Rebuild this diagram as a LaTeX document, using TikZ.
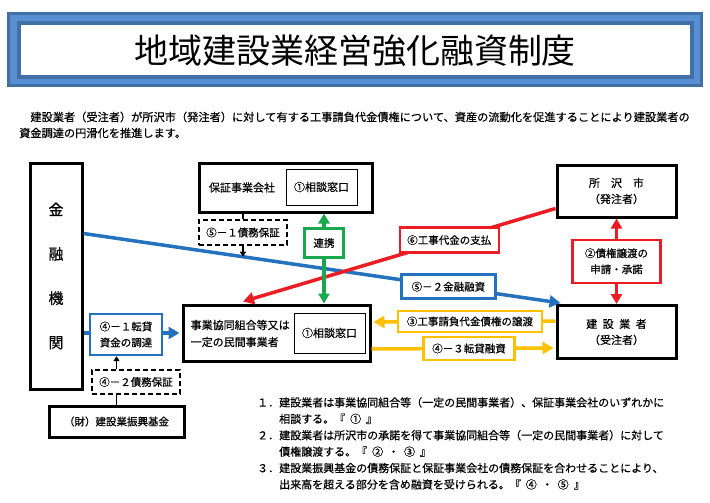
\documentclass[tikz,border=0pt]{standalone}
\usepackage{fontspec}
\setmainfont{Noto Sans CJK JP}
\newfontfamily\jpb[FakeBold=0.5]{Noto Sans CJK JP}
\usetikzlibrary{arrows.meta}
\definecolor{tdark}{RGB}{66,112,166}
\definecolor{tlight}{RGB}{88,143,210}
\definecolor{cblue}{RGB}{36,114,190}
\definecolor{cred}{RGB}{236,28,36}
\definecolor{cgreen}{RGB}{24,168,78}
\definecolor{cyellow}{RGB}{255,192,0}
\newcommand{\hs}{\hspace{0.45em}}
\tikzset{
  txt/.style={font=\jpb\fontsize{11}{16}\selectfont, inner sep=0pt},
  bigbox/.style={draw=black, line width=3pt, fill=white, inner sep=2pt, align=center,
    font=\jpb\fontsize{11}{16}\selectfont},
  inbox/.style={draw=black, line width=0.8pt, fill=white, inner sep=1pt,
    font=\jpb\fontsize{11}{16}\selectfont},
  lblbox/.style={line width=2.4pt, fill=white, inner sep=1pt, align=center,
    font=\jpb\fontsize{10.5}{16}\selectfont},
  dashbox/.style={draw=black, line width=1.4pt, dash pattern=on 5pt off 3pt, fill=white,
    inner sep=1pt, font=\jpb\fontsize{10.5}{16}\selectfont},
  bigtip/.style={-{Triangle[length=11pt,width=12pt]}},
  bothtip/.style={{Triangle[length=10pt,width=11pt]}-{Triangle[length=10pt,width=11pt]}},
  smalltip/.style={-{Triangle[length=5pt,width=6pt]}},
  conn/.style={line width=3.5pt},
}
\begin{document}
\begin{tikzpicture}[x=1pt,y=-1pt]
\useasboundingbox (0,0) rectangle (710,503);
\fill[white] (0,0) rectangle (710,503);
% title frame
\fill[tdark] (7,12) rectangle (703,87);
\fill[tlight] (10.3,15.3) rectangle (699.7,83.7);
\fill[tdark] (16.5,21.5) rectangle (694,79);
\fill[white] (20.5,25.5) rectangle (690,75);
\node[font=\fontsize{34}{40}\selectfont, inner sep=0pt] (title) at (355,51) {地域建設業経営強化融資制度};
% intro
\node[txt, font=\jpb\fontsize{11.2}{16}\selectfont, anchor=west] (intro1) at (19,117) {　建設業者（受注者）が所沢市（発注者）に対して有する工事請負代金債権について、資産の流動化を促進することにより建設業者の};
\node[txt, font=\jpb\fontsize{11.2}{16}\selectfont, anchor=west] (intro2) at (19,133) {資金調達の円滑化を推進します。};

% main boxes
\node[bigbox, minimum width=52pt, minimum height=226pt, font=\jpb\fontsize{15}{44.3}\selectfont] (kinyu) at (56,276) {金\\融\\機\\関};
\node[bigbox, minimum width=173pt, minimum height=49pt] (hosho) at (285.5,187.5) {};
\node[txt] (hoshotxt) at (242,187.5) {保証事業会社};
\node[inbox, minimum width=71pt, minimum height=36pt] (hmado) at (321.5,187) {①相談窓口};
\node[bigbox, minimum width=187pt, minimum height=56pt] (kumiai) at (276.5,333) {};
\node[txt, align=left, anchor=west, font=\jpb\fontsize{11}{17}\selectfont] (kumiaitxt) at (190.5,333.5) {事業協同組合等又は\\一定の民間事業者};
\node[inbox, minimum width=71pt, minimum height=40pt] (kmado) at (329.5,333) {①相談窓口};
\node[bigbox, minimum width=119pt, minimum height=52pt] (tokoro) at (616.5,191) {所　沢　市\\（発注者）};
\node[bigbox, minimum width=119pt, minimum height=53pt] (kensetsu) at (616.5,332) {建\hspace{0.5em}設\hspace{0.5em}業\hspace{0.5em}者\\（受注者）};
\node[bigbox, minimum width=135pt, minimum height=31pt, font=\jpb\fontsize{10.5}{16}\selectfont] (zaidan) at (116.5,421.5) {（財）建設業振興基金};

% blue long line with label
\draw[cblue, conn, bigtip] ([yshift=-72pt]kinyu.north east) -- node[lblbox, draw=cblue, minimum width=94pt, minimum height=24pt, text=black, pos=0.765] (l52) {⑤－２金融融資} ([xshift=5pt,yshift=1pt]kensetsu.north west);
% red long line with label
\draw[cred, conn, bigtip] ([yshift=10pt]tokoro.south west) -- node[lblbox, draw=cred, minimum width=99pt, minimum height=25pt, text=black, pos=0.34] (l6) {⑥工事代金の支払} ([xshift=-33.5pt,yshift=2pt]kumiai.north);
% green
\draw[cgreen, conn, bothtip] ([xshift=38.5pt]hosho.south) -- node[lblbox, draw=cgreen, minimum width=39pt, minimum height=29pt, text=black, pos=0.328] (renkei) {連携} ([xshift=47.5pt]kumiai.north);
% red vertical
\draw[cred, conn, bothtip] (tokoro.south) -- node[lblbox, draw=cred, minimum width=88pt, minimum height=43pt, text=black] (l2) {②債権譲渡の\\申請・承諾} (kensetsu.north);
% yellow
\draw[cyellow, conn, bigtip, shorten >=2pt] ([yshift=11pt]kensetsu.west) -- node[lblbox, draw=cyellow, minimum width=144pt, minimum height=21pt, text=black, pos=0.465] (l3) {③工事請負代金債権の譲渡} ([yshift=11pt]kumiai.east);
\draw[cyellow, conn, bigtip, shorten >=2pt] ([yshift=-16pt]kumiai.east) -- node[lblbox, draw=cyellow, minimum width=91pt, minimum height=23pt, text=black, pos=0.53] (l43) {④－３転貸融資} ([yshift=-16pt]kensetsu.west);
% blue short
\draw[cblue, conn, bigtip, shorten >=2pt] (kinyu.east |- kumiai.west) -- (kumiai.west);
\node[lblbox, draw=cblue, minimum width=72pt, minimum height=41pt] (d41) at (126,334.5) {④－１転貸\\資金の調達};
% dashed boxes
\node[dashbox, minimum width=88pt, minimum height=24pt] (d42) at (136,382) {④－２債務保証};
\node[dashbox, minimum width=88pt, minimum height=25pt] (d51) at (243,232.5) {⑤－１債務保証};
% black connectors
\draw[line width=1.8pt] (zaidan.north) -- (zaidan.north |- d42.south);
\draw[line width=1.8pt, smalltip] (zaidan.north |- d42.north) -- (zaidan.north |- d41.south);
\draw[line width=1.8pt] (d51.north |- hosho.south) -- (d51.north);
\coordinate (d51end) at ([yshift=-11pt]d51.south);
\draw[line width=1.8pt, smalltip] (d51.south) -- (d51end);

% notes
\node[txt, align=left, anchor=north west, font=\jpb\fontsize{11}{16.4}\selectfont] (notes) at (257,397) {１．建設業者は事業協同組合等（一定の民間事業者）、保証事業会社のいずれかに\\
\hspace*{2em}相談する。『\hs①\hs』\\
２．建設業者は所沢市の承諾を得て事業協同組合等（一定の民間事業者）に対して\\
\hspace*{2em}債権譲渡する。『\hs②\hs・\hs③\hs』\\
３．建設業振興基金の債務保証と保証事業会社の債務保証を合わせることにより、\\
\hspace*{2em}出来高を超える部分を含め融資を受けられる。『\hs④\hs・\hs⑤\hs』};
\end{tikzpicture}
\end{document}
